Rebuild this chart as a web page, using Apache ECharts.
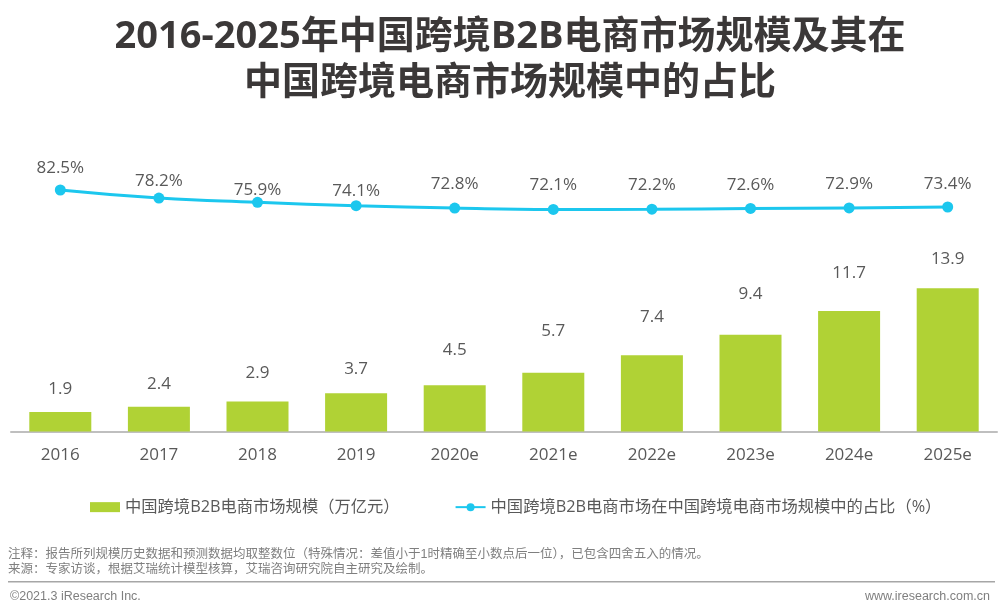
<!DOCTYPE html>
<html>
<head>
<meta charset="utf-8">
<style>html,body{margin:0;padding:0;background:#fff}#main{width:1000px;height:614px}</style>
<script src="https://cdn.jsdelivr.net/npm/echarts@6/dist/echarts.min.js"></script>
</head>
<body>
<div id="main"></div>
<script>
var categories = ['2016','2017','2018','2019','2020e','2021e','2022e','2023e','2024e','2025e'];
var marketSize = [1.9,2.4,2.9,3.7,4.5,5.7,7.4,9.4,11.7,13.9];
var share = [82.5,78.2,75.9,74.1,72.8,72.1,72.2,72.6,72.9,73.4];
var barName = '中国跨境B2B电商市场规模（万亿元）';
var lineName = '中国跨境B2B电商市场在中国跨境电商市场规模中的占比（%）';
var font = '"Open Sans","Noto Sans CJK SC",sans-serif';
var footFont = '"Liberation Sans","Noto Sans CJK SC",sans-serif';

// the labels in the picture sit at uneven heights above their marks
var barGaps = [14,14,20,16,26,33,30,32,29,21];
var lineGaps = [8,3,-2,1,10,10,10,9,10,9];

var myChart = echarts.init(document.getElementById('main'));
var option = {
    animation: false,
    textStyle: {fontFamily: font},
    title: [
        {text: '2016-2025年中国跨境B2B电商市场规模及其在\n中国跨境电商市场规模中的占比', left: 505, top: 9,
            textAlign: 'center',
            textStyle: {fontSize: 38, fontWeight: 'bold', color: '#3b3838', lineHeight: 46, fontFamily: font}},
        {text: '注释：报告所列规模历史数据和预测数据均取整数位（特殊情况：差值小于1时精确至小数点后一位），已包含四舍五入的情况。\n来源：专家访谈，根据艾瑞统计模型核算，艾瑞咨询研究院自主研究及绘制。', left: 3, top: 542,
            textStyle: {fontSize: 12.5, fontWeight: 'normal', color: '#7f7f7f', lineHeight: 15, fontFamily: footFont}},
        {text: '©2021.3 iResearch Inc.', left: 5, top: 585,
            textStyle: {fontSize: 12.5, fontWeight: 'normal', color: '#7f7f7f', fontFamily: footFont}},
        {text: 'www.iresearch.com.cn', right: 5, top: 585,
            textStyle: {fontSize: 12.5, fontWeight: 'normal', color: '#7f7f7f', fontFamily: footFont}}
    ],
    graphic: [
        {type: 'rect', shape: {x: 8, y: 581, width: 987, height: 1.5}, style: {fill: '#a6a6a6'}}
    ],
    legend: {
        top: 494, left: 85, itemGap: 55, itemWidth: 30, itemHeight: 10,
        textStyle: {fontSize: 16.3, color: '#595959'},
        data: [
            {name: barName, icon: 'rect'},
            {name: lineName}
        ]
    },
    grid: [
        {left: 11, right: 3, top: 176, height: 56},
        {left: 11, right: 3, top: 246, height: 185.5}
    ],
    xAxis: [
        {gridIndex: 0, type: 'category', data: categories, show: false},
        {gridIndex: 1, type: 'category', data: categories,
            axisTick: {show: false},
            axisLine: {lineStyle: {color: '#bfbfbf', width: 2}},
            axisLabel: {fontSize: 17, color: '#595959', margin: 15}}
    ],
    yAxis: [
        {gridIndex: 0, type: 'value', min: 60, max: 90, show: false, splitLine: {show: false}},
        {gridIndex: 1, type: 'value', min: 0, max: 18, show: false, splitLine: {show: false}}
    ],
    series: [
        {name: barName, type: 'bar', xAxisIndex: 1, yAxisIndex: 1, barWidth: 62,
            data: marketSize.map(function (v, i) {
                return {value: v, label: {distance: barGaps[i]}};
            }),
            itemStyle: {color: '#b0d235'},
            label: {show: true, position: 'top', fontSize: 17, color: '#595959'}},
        {name: lineName, type: 'line', xAxisIndex: 0, yAxisIndex: 0, smooth: true,
            data: share.map(function (v, i) {
                return {value: v, label: {distance: lineGaps[i]}};
            }),
            symbol: 'circle', symbolSize: 11,
            lineStyle: {color: '#1cc7ee', width: 3}, itemStyle: {color: '#1cc7ee'},
            label: {show: true, position: 'top', fontSize: 17, color: '#595959',
                formatter: function (p) { return p.value.toFixed(1) + '%'; }}}
    ]
};
myChart.setOption(option);
window.addEventListener('resize', function () { myChart.resize(); });
</script>
</body>
</html>
